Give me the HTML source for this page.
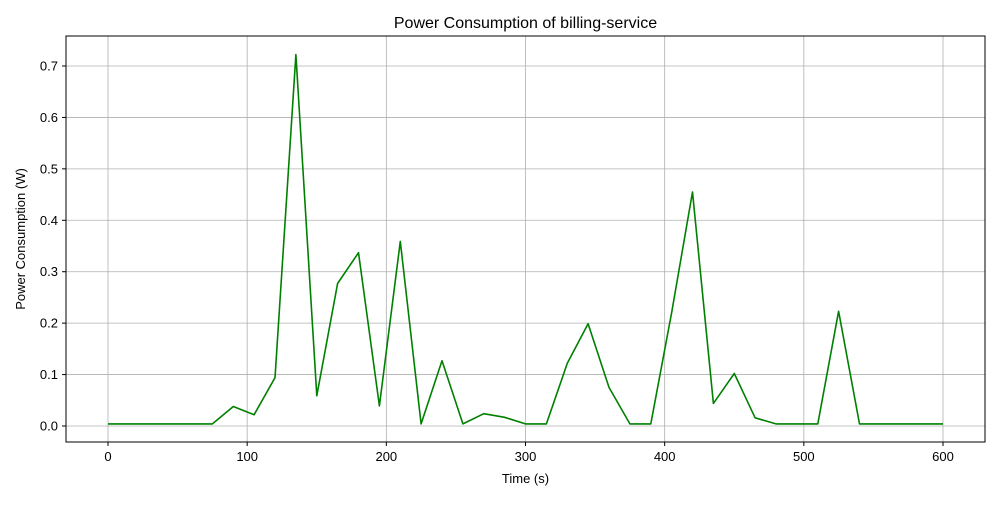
<!DOCTYPE html>
<html><head><meta charset="utf-8"><style>
body{margin:0;background:#fff;}
svg{font-family:"Liberation Sans","DejaVu Sans",sans-serif;}
</style></head><body>
<svg id="chart" width="1000" height="500" xmlns="http://www.w3.org/2000/svg">
<rect width="1000" height="500" fill="#fff"/>
<text x="525.5" y="28" font-size="16" text-anchor="middle">Power Consumption of billing-service</text>
<text x="525.5" y="483" font-size="13" text-anchor="middle">Time (s)</text>
<text transform="translate(25,239) rotate(-90)" font-size="13" text-anchor="middle">Power Consumption (W)</text>
<g id="grid"></g><g id="axes"></g><g id="series"></g>
<rect x="66" y="36" width="919" height="406" fill="none" stroke="#000" stroke-width="1"/>
</svg>
<script>
const times = [0,15,30,45,60,75,90,105,120,135,150,165,180,195,210,225,240,255,270,285,300,315,330,345,360,375,390,405,420,435,450,465,480,495,510,525,540,555,570,585,600];
const power = [0.004,0.004,0.004,0.004,0.004,0.004,0.038,0.022,0.094,0.722,0.059,0.277,0.337,0.039,0.359,0.004,0.127,0.004,0.024,0.017,0.004,0.004,0.122,0.199,0.075,0.004,0.004,0.22,0.455,0.044,0.102,0.016,0.004,0.004,0.004,0.223,0.004,0.004,0.004,0.004,0.004];
const xTicks = [0,100,200,300,400,500,600];
const yTicks = [0.0,0.1,0.2,0.3,0.4,0.5,0.6,0.7];
const NS="http://www.w3.org/2000/svg";
const X = t => 108 + t*(835/600);
const Y = v => 426 - v*(360/0.7);
function mk(tag, attrs, parent){const e=document.createElementNS(NS,tag);for(const k in attrs)e.setAttribute(k,attrs[k]);parent.appendChild(e);return e;}
const grid=document.getElementById('grid'), axes=document.getElementById('axes'), series=document.getElementById('series');
xTicks.forEach(t=>{
  const g=mk('line',{x1:X(t),x2:X(t),y1:36,y2:442,stroke:'#b0b0b0','stroke-width':0.8},grid);
  
  
  const tk=mk('line',{x1:X(t),x2:X(t),y1:442,y2:446,stroke:'#000'},axes);
  
  
  const lb=mk('text',{x:X(t),y:461,'font-size':13,'text-anchor':'middle'},axes);
  lb.textContent=t;
  
  
});
yTicks.forEach(v=>{
  const g=mk('line',{x1:66,x2:985,y1:Y(v),y2:Y(v),stroke:'#b0b0b0','stroke-width':0.8},grid);
  
  
  const tk=mk('line',{x1:62,x2:66,y1:Y(v),y2:Y(v),stroke:'#000'},axes);
  
  
  const lb=mk('text',{x:58,y:Y(v)+4.5,'font-size':13,'text-anchor':'end'},axes);
  lb.textContent=v.toFixed(1);
  
  
});
const pts=times.map((t,i)=>X(t).toFixed(1)+','+Y(power[i]).toFixed(1)).join(' ');
const line=mk('polyline',{points:pts,fill:'none',stroke:'#008000','stroke-width':1.6,'stroke-linejoin':'round'},series);


</script>
</body></html>
